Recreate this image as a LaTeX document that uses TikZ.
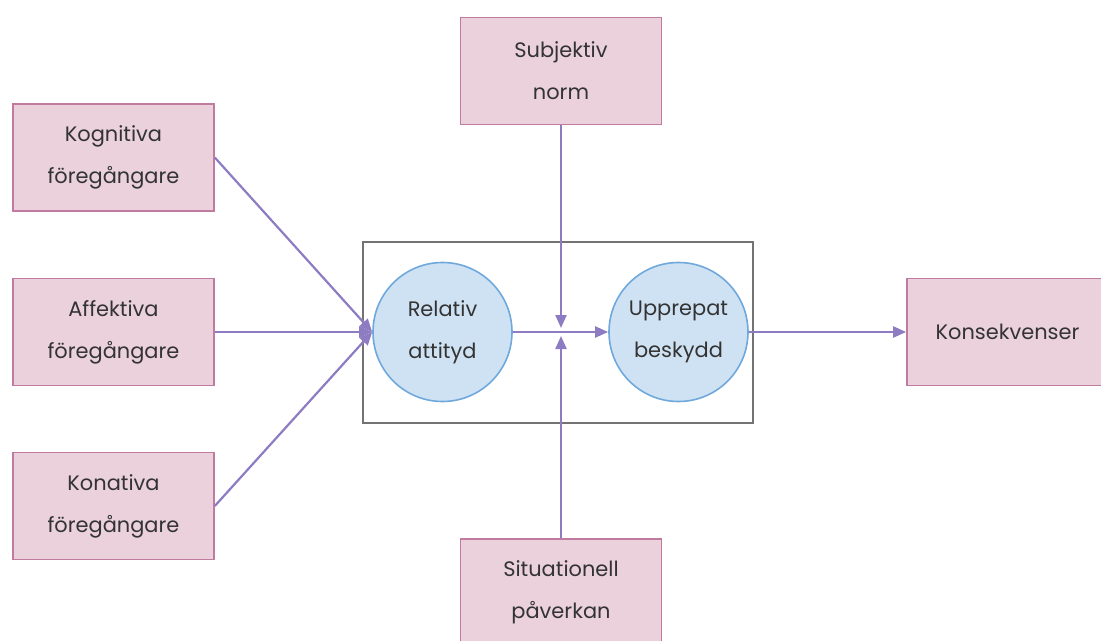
\documentclass[tikz,border=0pt]{standalone}
\usepackage{fontspec}
\setmainfont{Poppins}
\usetikzlibrary{arrows.meta}
\definecolor{boxfill}{HTML}{EAD1DC}
\definecolor{boxdraw}{HTML}{C27BA0}
\definecolor{circfill}{HTML}{CFE2F3}
\definecolor{circdraw}{HTML}{6FA8DC}
\definecolor{arr}{HTML}{8E7CC3}
\definecolor{txt}{HTML}{333333}
\tikzset{
  pbox/.style={draw=boxdraw, fill=boxfill, line width=1.6bp, minimum width=201bp, minimum height=107bp, inner sep=0pt, align=center, text=txt, font=\fontsize{21}{42}\selectfont},
  pcirc/.style={circle, draw=circdraw, fill=circfill, line width=1.6bp, minimum size=139bp, inner sep=0pt, align=center, text=txt, font=\fontsize{21}{42}\selectfont},
  parr/.style={draw=arr, line width=2.2bp, -{Triangle[length=13bp,width=11bp]}},
  pline/.style={draw=arr, line width=2.2bp}
}
\begin{document}
\begin{tikzpicture}[x=1bp,y=-1bp]
\useasboundingbox (0,0) rectangle (1101,641);
\clip (0,0) rectangle (1101,641);
\draw[draw=gray!90!black, line width=1.6bp] (363,242) rectangle (753,423);
\node[pbox] (kog) at (113.5,157.5) {Kognitiva\\föregångare};
\node[pbox] (aff) at (113.5,332) {Affektiva\\föregångare};
\node[pbox] (kon) at (113.5,506) {Konativa\\föregångare};
\node[pbox] (sub) at (561,71) {Subjektiv\\norm};
\node[pbox] (sit) at (561,592.5) {Situationell\\påverkan};
\node[pbox] (kons) at (1007.5,332) {Konsekvenser};
\node[pcirc] (rel) at (442.5,332) {Relativ\\attityd};
\node[pcirc] (upp) at (678.5,332) {Upprepat\\beskydd};
\coordinate (mtop) at (561,328);
\coordinate (mbot) at (561,336);
\draw[parr] (kog.east) -- (rel.west);
\draw[parr] (aff.east) -- (rel.west);
\draw[parr] (kon.east) -- (rel.west);
\draw[parr] (rel.east) -- (upp.west);
\draw[parr] (upp.east) -- (kons.west);
\draw[parr] (sub.south) -- (mtop);
\draw[parr] (sit.north) -- (mbot);
\end{tikzpicture}
\end{document}
